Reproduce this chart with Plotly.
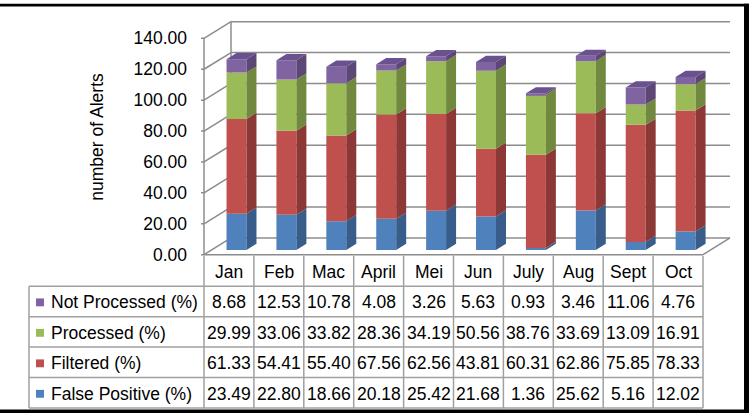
import plotly.graph_objects as go

# ---------------- data ----------------
months = ["Jan", "Feb", "Mac", "April", "Mei", "Jun", "July", "Aug", "Sept", "Oct"]
not_processed = [8.68, 12.53, 10.78, 4.08, 3.26, 5.63, 0.93, 3.46, 11.06, 4.76]
processed = [29.99, 33.06, 33.82, 28.36, 34.19, 50.56, 38.76, 33.69, 13.09, 16.91]
filtered = [61.33, 54.41, 55.40, 67.56, 62.56, 43.81, 60.31, 62.86, 75.85, 78.33]
false_positive = [23.49, 22.80, 18.66, 20.18, 25.42, 21.68, 1.36, 25.62, 5.16, 12.02]
series_names = ["False Positive (%)", "Filtered (%)", "Processed (%)", "Not Processed (%)"]
y_ticks = [0, 20, 40, 60, 80, 100, 120, 140]
y_title = "number of Alerts"

# ---------------- style / geometry ----------------
W, H = 749, 420
FONT = "Liberation Sans, Arial, sans-serif"
FS = 17.5
front_colors = ["#4F81BD", "#C0504D", "#9BBB59", "#8064A2"]
side_colors = ["#385D8A", "#8C3836", "#71893F", "#5C4776"]
top_color = "#6A5190"
grid_color = "#8c8c8c"
table_line = "#a0a0a0"

COL_PX = 49.9          # width of one category column (px)
X0_PX = 204            # pixel of left edge of first category column (front plane)
Y0_PX = 259            # pixel of value 0 on front plane
PPU = 220 / 140        # pixels per value unit
DEPTH_X_PX, DEPTH_Y_PX = 27, 17
N = len(months)
DXU = DEPTH_X_PX / COL_PX      # depth offset in x-data units
DYU = DEPTH_Y_PX / PPU         # depth offset in y-data units
D0, DD, BW = 0.28, 0.37, 0.40  # bar front depth, bar depth, bar width

# table geometry (px)
TBL_LEFT = 29
TBL_TOP = 260
ROW_H = 31


def xpx(x):
    return X0_PX + (x + 0.5) * COL_PX


def ypx(v):
    return Y0_PX - v * PPU


def px2x(p):
    return p / W


def px2y(p):
    return (H - p) / H


xr = [-0.62, N - 0.5 + DXU + 0.06]
yr = [-1.8, (Y0_PX - 16) / PPU]
xdom = [xpx(xr[0]) / W, xpx(xr[1]) / W]
ydom = [(H - ypx(yr[0])) / H, (H - ypx(yr[1])) / H]

fig = go.Figure()

series = [false_positive, filtered, processed, not_processed]
xc = [i + D0 * DXU for i in range(N)]
cum = [0.0] * N
side_traces = []
for k, vals in enumerate(series):
    bases = [c + D0 * DYU for c in cum]
    fig.add_trace(go.Bar(x=xc, y=vals, base=bases, width=BW,
                         marker=dict(color=front_colors[k], line=dict(width=0)),
                         name=series_names[k], hoverinfo="skip"))
    sx, sy = [], []
    for i in range(N):
        xrgt = xc[i] + BW / 2
        b = bases[i]
        t = bases[i] + vals[i]
        sx += [xrgt, xrgt + DD * DXU, xrgt + DD * DXU, xrgt, None]
        sy += [b, b + DD * DYU, t + DD * DYU, t, None]
    side_traces.append(go.Scatter(x=sx, y=sy, mode="lines", fill="toself",
                                  fillcolor=side_colors[k], line=dict(width=0),
                                  hoverinfo="skip", showlegend=False))
    cum = [c + v for c, v in zip(cum, vals)]

for tr in side_traces:
    fig.add_trace(tr)

# top faces
tx, ty = [], []
for i in range(N):
    xl = xc[i] - BW / 2
    xrt = xc[i] + BW / 2
    t = cum[i] + D0 * DYU
    tx += [xl, xrt, xrt + DD * DXU, xl + DD * DXU, None]
    ty += [t, t, t + DD * DYU, t + DD * DYU, None]
fig.add_trace(go.Scatter(x=tx, y=ty, mode="lines", fill="toself", fillcolor=top_color,
                         line=dict(width=0), hoverinfo="skip", showlegend=False))

# 3D frame: back wall gridlines, left wall diagonals, floor
shapes = []
annotations = []
xl_front = -0.5
xl_back = -0.5 + DXU
x_end_front = N - 0.5
x_end_back = N - 0.5 + DXU


def seg(x0, y0, x1, y1, color=grid_color, width=1.5, layer="below"):
    shapes.append(dict(type="line", xref="x", yref="y", x0=x0, y0=y0, x1=x1, y1=y1,
                       line=dict(color=color, width=width), layer=layer))


for v in y_ticks:
    seg(xl_back, v + DYU, x_end_back, v + DYU)
    seg(xl_front, v, xl_back, v + DYU)
    seg(xl_front - 3 / COL_PX, v, xl_front, v)
seg(xl_back, DYU, xl_back, y_ticks[-1] + DYU)
seg(xl_front, 0, xl_front, y_ticks[-1])
seg(xl_front, 0, x_end_front, 0)
seg(x_end_front, 0, x_end_back, DYU)


# ---------------- data table (drawn from the arrays) ----------------
def pline(x0, y0, x1, y1):
    shapes.append(dict(type="line", xref="paper", yref="paper",
                       x0=px2x(x0), y0=px2y(y0), x1=px2x(x1), y1=px2y(y1),
                       line=dict(color=table_line, width=1.5)))


row_order = [3, 2, 1, 0]
n_rows = len(row_order)
tbl_right = X0_PX + COL_PX * N
tbl_bottom = TBL_TOP + ROW_H * (n_rows + 1)
# horizontal lines
for r in range(1, n_rows + 2):
    yy = TBL_TOP + ROW_H * r
    pline(TBL_LEFT, yy, tbl_right, yy)
# vertical lines
pline(TBL_LEFT, TBL_TOP + ROW_H, TBL_LEFT, tbl_bottom)
for c in range(N + 1):
    xx = X0_PX + COL_PX * c
    pline(xx, TBL_TOP, xx, tbl_bottom)

tfont = dict(family=FONT, size=FS, color="black")
# header (months)
for i, m in enumerate(months):
    annotations.append(dict(text=m, xref="paper", yref="paper",
                            x=px2x(X0_PX + COL_PX * (i + 0.5)), y=px2y(TBL_TOP + ROW_H * 0.5 + 1),
                            xanchor="center", yanchor="middle", showarrow=False, font=tfont))
# rows
for r, k in enumerate(row_order):
    yc = TBL_TOP + ROW_H * (r + 1.5) + 1
    shapes.append(dict(type="rect", xref="paper", yref="paper",
                       x0=px2x(36), x1=px2x(44), y0=px2y(yc - 4), y1=px2y(yc + 4),
                       fillcolor=front_colors[k], line=dict(width=0)))
    annotations.append(dict(text=series_names[k], xref="paper", yref="paper",
                            x=px2x(49), y=px2y(yc), xanchor="left", yanchor="middle",
                            showarrow=False, font=tfont))
    for i in range(N):
        annotations.append(dict(text=f"{series[k][i]:.2f}", xref="paper", yref="paper",
                                x=px2x(X0_PX + COL_PX * (i + 0.5)), y=px2y(yc),
                                xanchor="center", yanchor="middle", showarrow=False,
                                font=tfont))

# axis title
annotations.append(dict(text=y_title, xref="paper", yref="paper", x=px2x(97), y=px2y(139),
                        xanchor="center", yanchor="middle", textangle=-90, showarrow=False,
                        font=tfont))

# image frame (black border)
shapes.append(dict(type="rect", xref="paper", yref="paper", x0=0, x1=1,
                   y0=px2y(6.5), y1=px2y(3.8), fillcolor="black", line=dict(width=0)))
shapes.append(dict(type="rect", xref="paper", yref="paper", x0=px2x(744), x1=1,
                   y0=0, y1=px2y(3.8), fillcolor="black", line=dict(width=0)))
shapes.append(dict(type="rect", xref="paper", yref="paper", x0=0, x1=1,
                   y0=0, y1=px2y(416.5), fillcolor="black", line=dict(width=0)))

fig.update_layout(
    width=W, height=H, margin=dict(l=0, r=0, t=0, b=0),
    paper_bgcolor="white", plot_bgcolor="rgba(0,0,0,0)",
    barmode="overlay", showlegend=False, shapes=shapes, annotations=annotations,
    xaxis=dict(domain=xdom, range=xr, visible=False, fixedrange=True),
    yaxis=dict(domain=ydom, range=yr, tickvals=y_ticks, tickformat=".2f",
               ticks="", showgrid=False, zeroline=False, showline=False,
               ticklabelstandoff=10, fixedrange=True,
               tickfont=dict(family=FONT, size=FS, color="black")),
    font=dict(family=FONT, size=FS, color="black"),
)

fig.write_html("out.html")
